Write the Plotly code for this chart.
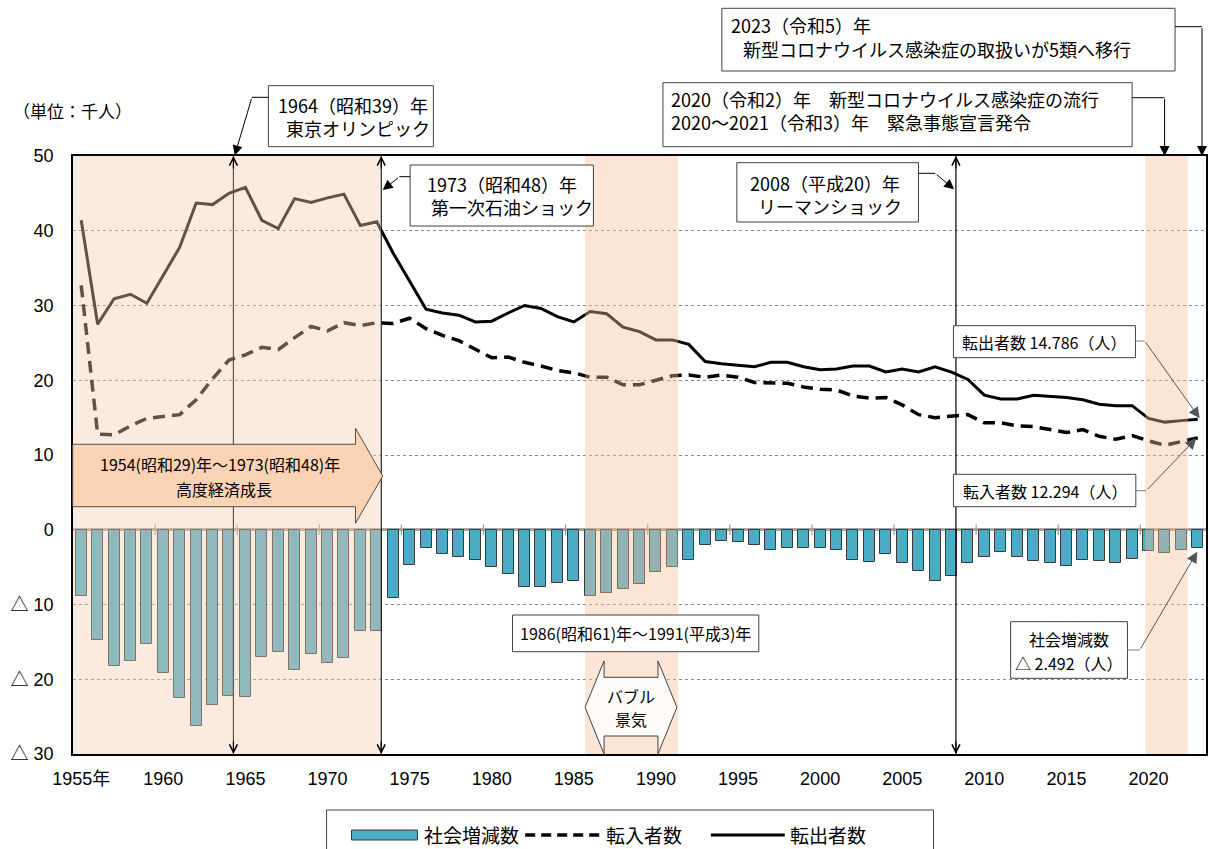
import plotly.graph_objects as go

# ---------------- data ----------------
years = list(range(1955, 2024))
out_migrants = [41.4, 27.5, 30.9, 31.5, 30.3, 34.0, 37.8, 43.7, 43.5, 45.0,
                45.8, 41.4, 40.3, 44.3, 43.8, 44.4, 44.9, 40.7, 41.2, 37.0,
                33.2, 29.5, 29.0, 28.7, 27.8, 27.9, 29.0, 30.0, 29.6, 28.5,
                27.8, 29.2, 28.9, 27.1, 26.5, 25.4, 25.4, 24.8, 22.5, 22.2,
                22.0, 21.8, 22.4, 22.4, 21.8, 21.4, 21.5, 21.9, 21.9, 21.1,
                21.5, 21.1, 21.8, 21.1, 20.1, 18.0, 17.5, 17.5, 18.0, 17.9,
                17.7, 17.4, 16.8, 16.6, 16.6, 14.9, 14.4, 14.6, 14.786]
in_migrants = [32.7, 12.8, 12.7, 13.9, 14.9, 15.2, 15.4, 17.4, 20.2, 22.7,
               23.4, 24.4, 24.1, 25.7, 27.2, 26.6, 27.7, 27.3, 27.7, 27.6,
               28.3, 26.9, 26.0, 25.3, 24.2, 23.0, 23.1, 22.4, 21.9, 21.3,
               21.0, 20.4, 20.4, 19.4, 19.4, 20.0, 20.6, 20.7, 20.4, 20.7,
               20.4, 19.7, 19.7, 19.6, 19.1, 18.8, 18.7, 17.9, 17.6, 17.7,
               16.7, 15.4, 15.0, 15.2, 15.4, 14.3, 14.3, 13.9, 13.8, 13.4,
               13.0, 13.4, 12.5, 12.1, 12.6, 11.9, 11.3, 11.8, 12.294]
social_change = [-8.8, -14.7, -18.2, -17.6, -15.3, -19.2, -22.5, -26.3, -23.5, -22.3,
                 -22.4, -17.0, -16.3, -18.7, -16.6, -17.8, -17.2, -13.5, -13.5, -9.1,
                 -4.7, -2.4, -3.2, -3.6, -4.0, -5.0, -5.9, -7.6, -7.6, -7.1,
                 -6.8, -8.8, -8.5, -7.9, -7.3, -5.6, -5.0, -4.0, -2.0, -1.5,
                 -1.6, -2.1, -2.7, -2.5, -2.4, -2.5, -2.7, -4.0, -4.3, -3.3,
                 -4.4, -5.5, -6.8, -6.2, -4.5, -3.6, -3.0, -3.6, -4.2, -4.4,
                 -4.8, -4.1, -4.2, -4.4, -3.9, -2.9, -3.1, -2.7, -2.492]
series_names = ["社会増減数", "転入者数", "転出者数"]
x_tick_vals = [1955, 1960, 1965, 1970, 1975, 1980, 1985, 1990, 1995, 2000, 2005, 2010, 2015, 2020]
x_tick_text = ["1955年"] + [str(v) for v in x_tick_vals[1:]]
y_tick_vals = [-30, -20, -10, 0, 10, 20, 30, 40, 50]
y_tick_text = ["△ 30", "△ 20", "△ 10", "0", "10", "20", "30", "40", "50"]
event_years = [1964, 1973, 2008]

# ---------------- geometry helpers ----------------
W, H = 1210, 849
ML, MR, MT, MB = 73, 2, 156, 95
PW, PH = W - ML - MR, H - MT - MB

def px(x):
    return (x - ML) / PW

def py(y):
    return (H - MB - y) / PH

JP = "Noto Sans CJK JP"
NUM = "Arial, Liberation Sans, Noto Sans CJK JP"
TEAL = "#4BACC6"
NB = "\u00a0"

fig = go.Figure()
fig.add_trace(go.Bar(x=years, y=social_change, name=series_names[0], width=0.67,
                     marker=dict(color=TEAL, line=dict(color="#3a3a3a", width=1))))
fig.add_trace(go.Scatter(x=years, y=in_migrants, name=series_names[1], mode="lines",
                         line=dict(color="black", width=3.5, dash="12px,7px")))
fig.add_trace(go.Scatter(x=years, y=out_migrants, name=series_names[2], mode="lines",
                         line=dict(color="black", width=3)))

shapes = []
ann = []

def rect_px(x0, y0, x1, y1, fill="white", line="#404040", lw=1):
    shapes.append(dict(type="rect", xref="paper", yref="paper", layer="above",
                       x0=px(x0), x1=px(x1), y0=py(y1), y1=py(y0),
                       fillcolor=fill, line=dict(color=line, width=lw)))

def line_px(x0, y0, x1, y1, color="black", lw=1, dash="solid"):
    shapes.append(dict(type="line", xref="paper", yref="paper", layer="above",
                       x0=px(x0), x1=px(x1), y0=py(y0), y1=py(y1),
                       line=dict(color=color, width=lw, dash=dash)))

def poly_px(pts, fill, line="#404040", lw=1):
    d = "M " + " L ".join(f"{px(a):.5f},{py(b):.5f}" for a, b in pts) + " Z"
    shapes.append(dict(type="path", xref="paper", yref="paper", layer="above", path=d,
                       fillcolor=fill, line=dict(color=line, width=lw)))

def text_px(x, y, s, size=18, xanchor="left", family=JP, color="black"):
    ann.append(dict(x=px(x), y=py(y), xref="paper", yref="paper", text=s, showarrow=False,
                    xanchor=xanchor, yanchor="middle", borderpad=0,
                    align="left" if xanchor == "left" else "center",
                    font=dict(family=family, size=size, color=color)))

def arrow_px(tail, head, color="black", size=2.0):
    ann.append(dict(x=px(head[0]), y=py(head[1]), xref="paper", yref="paper", text="",
                    showarrow=True, axref="pixel", ayref="pixel",
                    ax=tail[0] - head[0], ay=tail[1] - head[1],
                    arrowhead=2, arrowsize=size, arrowwidth=1, arrowcolor=color,
                    standoff=0, startstandoff=0))

# event vertical lines (under the shading)
for ev in event_years:
    xv = ev + 0.27
    shapes.append(dict(type="line", xref="x", yref="paper", layer="above", x0=xv, x1=xv, y0=0, y1=1,
                       line=dict(color="black", width=1.2)))
    for yv, off in [(1, 14), (0, -14)]:
        ann.append(dict(x=xv, y=yv, xref="x", yref="paper", text="", showarrow=True,
                        axref="pixel", ayref="pixel", ax=0, ay=off, arrowhead=5, arrowsize=1.3,
                        arrowwidth=1.2, arrowcolor="black", standoff=0, startstandoff=0))

# tick marks on zero line
for yr in x_tick_vals[1:]:
    shapes.append(dict(type="line", xref="x", yref="y", layer="above", x0=yr - 0.5, x1=yr - 0.5,
                       y0=-0.7, y1=0.7, line=dict(color="#9a9a9a", width=1.2)))

# shaded periods (translucent overlays)
shapes.append(dict(type="rect", xref="x", yref="y", layer="above", x0=1954.5, x1=1973.27, y0=-30, y1=50,
                   fillcolor="rgba(245,205,175,0.4)", line=dict(width=0)))
shapes.append(dict(type="rect", xref="x", yref="y", layer="above", x0=1985.68, x1=1991.35, y0=-30, y1=50,
                   fillcolor="rgba(248,190,150,0.4)", line=dict(width=0)))
shapes.append(dict(type="rect", xref="x", yref="y", layer="above", x0=2019.8, x1=2022.4, y0=-30, y1=50,
                   fillcolor="rgba(248,190,150,0.4)", line=dict(width=0)))

# high growth arrow
poly_px([(72.7, 444.3), (356, 444.3), (356, 428.3), (383.3, 476), (356, 523.3), (356, 506.7), (72.7, 506.7)],
        fill="#FAD3B4", line="#505050")
text_px(220, 464.5, "1954(昭和29)年～1973(昭和48)年", size=16, xanchor="center")
text_px(224, 488.5, "高度経済成長", size=16, xanchor="center")

# bubble double arrow
poly_px([(605, 661), (605, 677.3), (659, 677.3), (659, 661), (678, 707.3), (659, 754), (659, 736),
         (605, 736), (605, 754), (586, 707.3)], fill="#FEFBF8", line="#404040")
text_px(632, 695.5, "バブル", size=16, xanchor="center")
text_px(632, 719, "景気", size=16, xanchor="center")

# bubble period box
rect_px(513.3, 615, 760, 651.7)
text_px(636.7, 633.3, "1986(昭和61)年～1991(平成3)年", size=16, xanchor="center")

# 1964 box
rect_px(268.7, 85.7, 434, 146.7)
text_px(277.7, 116.5, "1964（昭和39）年<br>" + NB * 2 + "東京オリンピック", size=18)
line_px(268.7, 97.3, 252.2, 97.3)
arrow_px((252.2, 97.3), (235, 155.5))

# 1973 box
rect_px(410.7, 165, 594.3, 226)
text_px(426.7, 195.5, "1973（昭和48）年<br>" + NB + "第一次石油ショック", size=18)
line_px(410.7, 176.7, 400, 176.7)
arrow_px((400, 176.7), (383.3, 190))

# 2008 box
rect_px(738, 162.7, 920, 222)
text_px(750, 195, "2008（平成20）年<br>" + NB * 2 + "リーマンショック", size=18)
line_px(920, 173.3, 936.7, 173.3)
arrow_px((936.7, 173.3), (955.7, 189.3))

# 2020 box
rect_px(664, 82.7, 1134, 146.7)
text_px(671.4, 111, "2020（令和2）年　新型コロナウイルス感染症の流行<br>2020～2021（令和3）年　緊急事態宣言発令", size=18)
line_px(1134, 97.7, 1166.5, 97.7)
arrow_px((1166.5, 97.7), (1166.5, 156))

# 2023 box
rect_px(723, 8.3, 1177, 71)
text_px(731.4, 24.5, "2023（令和5）年", size=18)
text_px(743.6, 49, "新型コロナウイルス感染症の取扱いが5類へ移行", size=18)
line_px(1177, 26.7, 1204, 26.7)
arrow_px((1204, 26.7), (1204, 156))

# value boxes
rect_px(955, 325.7, 1137.3, 357.7)
text_px(962.7, 341.5, "転出者数 14.786（人）", size=16)
line_px(1137.3, 341, 1146.7, 341, color="#7f7f7f")
arrow_px((1146.7, 341), (1201.7, 418.3), color="#555555", size=2.2)

rect_px(955, 474.3, 1137.7, 506.7)
text_px(963.3, 490.7, "転入者数 12.294（人）", size=16)
line_px(1137.7, 490.7, 1148.3, 490.7, color="#7f7f7f")
arrow_px((1148.3, 490.7), (1198.3, 438.3), color="#555555", size=2.2)

rect_px(1012.3, 621.7, 1129.3, 678.3)
text_px(1071, 638.5, "社会増減数", size=16, xanchor="center")
text_px(1071, 662.5, "△ 2.492（人）", size=16, xanchor="center")
line_px(1129.3, 650, 1141.7, 650, color="#7f7f7f")
arrow_px((1141.7, 650), (1199.3, 551.7), color="#555555", size=2.2)

# unit label
text_px(12, 110, "（単位：千人）", size=17)

# custom legend
rect_px(327, 810, 935, 870, line="#404040")
rect_px(352, 830, 418, 840, fill=TEAL, line="#3a3a3a")
text_px(424, 834, series_names[0], size=19)
line_px(526, 835, 604, 835, color="black", lw=3.5, dash="10px,6px")
text_px(606, 834, series_names[1], size=19)
line_px(712, 835, 786, 835, color="black", lw=3)
text_px(790, 834, series_names[2], size=19)

fig.update_layout(
    width=W, height=H,
    margin=dict(l=ML, r=MR, t=MT, b=MB),
    paper_bgcolor="white", plot_bgcolor="white",
    showlegend=False, bargap=0,
    shapes=shapes, annotations=ann,
    font=dict(family=JP, color="black"),
)
fig.update_xaxes(range=[1954.5, 2023.5], tickvals=x_tick_vals, ticktext=x_tick_text,
                 showgrid=False, zeroline=False, ticks="", ticklabelstandoff=8,
                 showline=True, mirror=True, linecolor="black", linewidth=1.5,
                 tickfont=dict(family=NUM, size=18, color="black"))
fig.update_yaxes(range=[-30, 50], tickvals=y_tick_vals, ticktext=y_tick_text,
                 showgrid=True, gridcolor="#8a8a8a", griddash="dot", gridwidth=1,
                 zeroline=True, zerolinecolor="#a6a6a6", zerolinewidth=2.5,
                 ticks="", ticklabelstandoff=14,
                 showline=True, mirror=True, linecolor="black", linewidth=1.5,
                 tickfont=dict(family=NUM, size=18, color="black"))

fig.write_html("out.html", config={"displayModeBar": False},
               post_script="document.body.style.margin='0';")
